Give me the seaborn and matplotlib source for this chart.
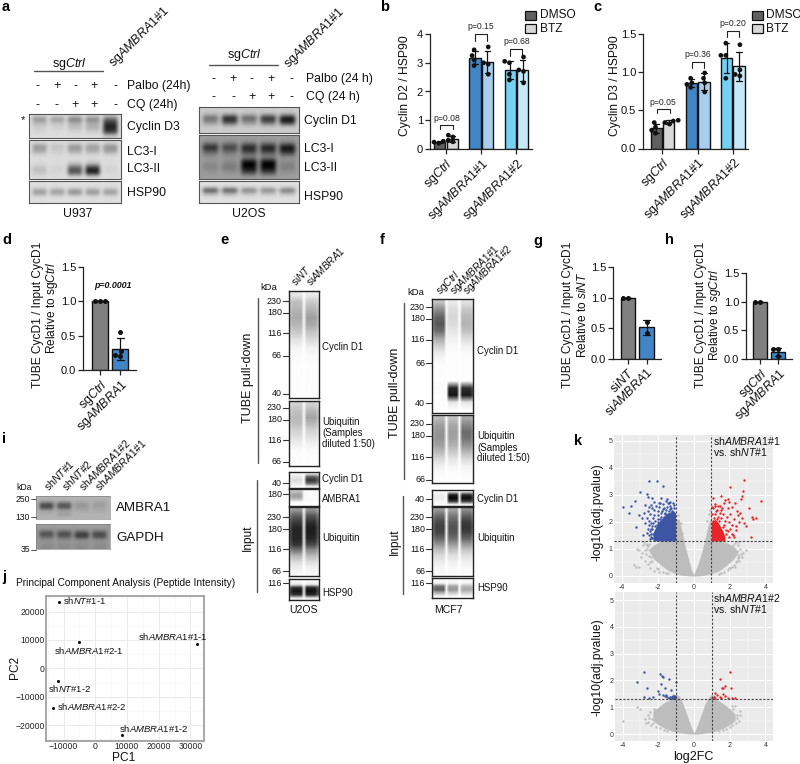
import numpy as np
import pandas as pd
import seaborn as sns
import matplotlib
matplotlib.use('Agg')
import matplotlib.pyplot as plt
from matplotlib.lines import Line2D
from matplotlib.patches import Rectangle
from matplotlib.ticker import MultipleLocator

sns.set_theme(style='white')
plt.rcParams['font.family'] = ['Liberation Sans', 'DejaVu Sans']
plt.rcParams['mathtext.fontset'] = 'custom'
plt.rcParams['mathtext.rm'] = 'Liberation Sans'
plt.rcParams['mathtext.it'] = 'Liberation Sans:italic'
plt.rcParams['mathtext.bf'] = 'Liberation Sans:bold'

W, H = 800, 764
CTRL = r'sg$\mathit{Ctrl}$'
AMB1 = r'sg$\mathit{AMBRA1\#1}$'
AMB2 = r'sg$\mathit{AMBRA1\#2}$'
AMB = r'sg$\mathit{AMBRA1}$'

# ---- bar data
groups = [CTRL, AMB1, AMB2]
b_dmso = [[.2, .24, .27, .29], [2.9, 3.1, 3.25, 3.45], [2.4, 2.6, 3.0, 3.05]]
b_btz = [[.25, .3, .42, .48], [2.6, 2.95, 3.0, 3.55], [2.3, 2.7, 2.75, 3.2]]
c_dmso = [[.2, .24, .28, .34], [.8, .84, .86, .92], [.92, 1.22, 1.22, 1.38]]
c_btz = [[.32, .34, .36, .37], [.74, .86, .92, .99], [.95, .97, 1.03, 1.36]]
d_ctrl = [1, 1, 1]
d_amb = [.55, .27, .22, .2]
g_nt = [1, 1]
g_amb = [.6, .43]
h_ctrl = [1, 1]
h_amb = [.05, .17, .17]

# ---- blots, darkness by row and lane
u937_d3 = [[.15, .15, .15, .15, .2], [.46, .42, .55, .52, .6], [.26, .22, .3, .3, .82],
           [.2, .18, .26, .32, .88], [.17, .15, .18, .2, .78], [.13, .13, .13, .13, .2]]
u937_lc3 = [[.14] * 5, [.42, .25, .42, .4, .44], [.36, .2, .36, .34, .4], [.15] * 5, [.14] * 5,
            [.15, .14, .25, .28, .14], [.26, .18, .66, .85, .18], [.24, .16, .7, .92, .16], [.14] * 5]
u937_hsp = [[.13] * 5, [.14] * 5, [.48, .46, .52, .48, .46], [.14] * 5, [.13] * 5]
u2os_d1 = [[.2] * 5, [.24] * 5, [.6, .9, .65, .85, .95], [.45, .72, .45, .65, .88], [.22] * 5, [.2] * 5]
u2os_lc3 = [[.38] * 5, [.45] * 5, [.9, .8, .92, .95, 1], [.6, .55, .72, .72, .82], [.42] * 5,
            [.42, .45, 1, 1, .45], [.5, .55, 1, 1, .52], [.42, .44, .8, .8, .44], [.38] * 5]
u2os_hsp = [[.12] * 5, [.14] * 5, [.72, .7, .52, .5, .56], [.3, .3, .24, .24, .26], [.13] * 5, [.12] * 5]
i_ambra = [[.3] * 4, [.32] * 4, [.72, .68, .42, .4], [.72, .66, .4, .36], [.34] * 4, [.33, .4, .3, .3], [.3] * 4]
i_gapdh = [[.38] * 4, [.4] * 4, [.72, .72, .72, .7], [.62, .66, .8, .72], [.42] * 4, [.44] * 4, [.46] * 4]

# ---- capillary lanes, one list per lane, top to bottom
e_tube_d1 = [[.1, .25, .3, .33, .28, .2, .1, .04, .02, .01, .01, .01, .01, .01],
             [.08, .22, .3, .38, .33, .22, .14, .05, .02, .01, .01, .01, .01, .01]]
e_tube_ub = [[.18, .24, .28, .25, .18, .13, .07, .02, .01, .01],
             [.18, .28, .36, .28, .18, .12, .06, .02, .01, .01]]
e_in_d1 = [[.03, .1, .14, .1, .03], [.08, .62, .8, .6, .08]]
e_in_amb = [[.18, .32, .38, .28, .05, .01], [.01, .02, .02, .02, .01, .01]]
e_in_ub = [[.4, .62, .75, .85, .86, .85, .8, .55, .3, .15, .07, .03],
           [.42, .66, .8, .88, .88, .85, .72, .45, .28, .14, .06, .03]]
e_hsp = [[.02, .08, .82, .92, .8, .08], [.02, .08, .86, .94, .84, .08]]
f_tube_d1 = [[.25, .45, .6, .66, .58, .35, .2, .08, .03, .01, .01, .01, .02, .01, .01, .01],
             [.08, .14, .16, .14, .1, .06, .03, .01, .01, .01, .01, .01, .85, .92, .1, .01],
             [.12, .22, .28, .3, .24, .14, .06, .02, .01, .01, .01, .01, .82, .9, .1, .01]]
f_tube_ub = [[.28, .38, .42, .42, .36, .26, .15, .06, .02, .01],
             [.25, .34, .38, .36, .3, .2, .1, .04, .01, .01],
             [.35, .48, .58, .54, .42, .28, .14, .05, .02, .01]]
f_in_d1 = [[.02, .07, .08, .05, .02], [.1, .85, .98, .8, .08], [.1, .82, .96, .78, .08]]
f_in_ub = [[.4, .58, .7, .75, .72, .6, .42, .25, .14, .08, .04, .02],
           [.36, .52, .62, .68, .66, .56, .4, .24, .12, .07, .03, .02],
           [.45, .62, .75, .8, .74, .6, .4, .22, .12, .06, .03, .02]]
f_hsp = [[.02, .04, .55, .62, .3, .03], [.02, .04, .36, .42, .2, .03], [.02, .04, .28, .34, .18, .03]]

# ---- PCA
pc1 = [-11360, -5140, 32000, -11860, -13440, 8330]
pc2 = [23240, 9150, 8450, -4360, -13870, -23490]

# ---- volcano envelopes (dense clouds) and sparse points
v1_x = [-2.5, -2.2, -1.8, -1.4, -1.01, -1.0, -.8, -.65, -.5, -.35, -.2, -.1, 0, .1, .2, .4, .6, .8, 1.0, 1.01, 1.4, 1.8, 2.2, 2.5]
v1_low = [.95, .62, .4, .2, .08, .07, .05, .03, .02, .01, 0, 0, 0, 0, 0, .01, .03, .05, .07, .08, .18, .38, .6, .9]
v1_high = [.98, 1.15, 1.3, 1.3, 1.3, 2.1, 2.1, 1.7, 1.2, .8, .45, .2, .05, .2, .35, .75, 1.25, 1.85, 2.25, 1.3, 1.3, 1.25, 1.1, .92]
v2_x = [-2.3, -2.0, -1.6, -1.2, -1.0, -.8, -.6, -.4, -.2, -.1, 0, .1, .2, .4, .6, .8, 1.0, 1.2, 1.6, 2.0, 2.3]
v2_low = [.5, .35, .2, .1, .07, .05, .03, .01, 0, 0, 0, 0, 0, .01, .03, .05, .07, .1, .2, .35, .5]
v2_high = [.85, 1.0, 1.2, 1.32, 1.5, 1.4, 1.1, .72, .35, .18, .05, .18, .35, .72, 1.1, 1.35, 1.5, 1.32, 1.15, .95, .75]
b1_fill_x = [-2.25, -2.0, -1.8, -1.5, -1.2, -1.0]
b1_fill_top = [1.6, 1.95, 2.1, 2.3, 2.4, 2.35]
r1_fill_x = [1.0, 1.2, 1.4, 1.6, 1.75]
r1_fill_top = [2.0, 2.1, 1.95, 1.7, 1.45]
b2_fill_x = [-1.3, -1.15, -1.0]
b2_fill_top = [1.42, 1.47, 1.45]

blue1_x = [-2.5, -2.02, -1.68, -3.0, -2.6, -2.54, -3.93, -3.5, -3.26, -3.56, -2.3, -1.83, -1.46, -2.2, -1.93, -2.67, -2.48, -1.37, -1.09,
           -3.04, -2.85, -3.17, -2.81, -2.61, -2.39, -2.48, -2.76, -2.4, -2.3, -2.2, -2.1, -2.0, -1.9, -1.8, -1.7, -1.6, -1.5, -1.4, -1.3, -1.2, -1.1,
           -2.45, -2.35, -2.25, -2.15, -2.05, -1.95, -1.85, -1.75, -1.65, -1.55, -1.45, -1.35, -1.25, -1.15, -2.55, -2.42, -2.28, -2.12, -1.98, -1.82,
           -1.72, -1.58, -1.42, -1.28, -1.12, -2.7, -2.6, -2.52, -2.38, -2.18, -1.88, -1.62, -1.52, -1.32, -1.18,
           -2.33, -2.27, -2.37, -2.3, -2.42, -2.15, -2.22, -2.08, -1.98, -2.45, -2.25, -2.35]
blue1_y = [3.53, 3.53, 3.35, 3.12, 3.02, 2.94, 2.55, 2.59, 2.78, 2.32, 2.88, 2.88, 2.86, 2.75, 2.69, 2.63, 2.57, 2.69, 2.63,
           2.26, 2.14, 1.8, 1.52, 1.58, 1.46, 1.89, 2.32, 2.3, 2.5, 2.25, 2.6, 2.4, 2.55, 2.2, 2.65, 2.35, 2.55, 2.3, 2.6, 2.4, 2.5,
           2.05, 1.95, 2.15, 2.05, 1.9, 2.25, 2.1, 2.4, 2.2, 2.45, 2.25, 2.42, 2.52, 2.38, 1.75, 1.65, 1.75, 1.85, 2.12, 2.32,
           2.48, 2.28, 2.72, 2.48, 2.7, 1.95, 2.15, 2.4, 2.62, 2.45, 2.72, 2.52, 2.78, 2.75, 2.3,
           1.4, 1.55, 1.75, 1.85, 1.38, 1.6, 1.42, 1.72, 2.0, 1.5, 1.95, 1.55]
red1_x = [2.78, 2.05, 2.76, 3.78, 2.7, 1.08, 1.2, 1.55, 1.75, 2.0, 2.3, 2.65, 1.05, 1.3, 1.5, 1.7, 1.9, 2.15, 2.4, 2.6, 3.1, 3.25, 3.5, 3.3, 2.9, 3.2,
          1.02, 1.15, 1.25, 1.35, 1.45, 1.55, 1.65, 1.75, 1.85, 1.95, 2.05, 2.15, 2.25, 2.35, 2.45, 2.55, 2.7, 1.1, 1.22, 1.32, 1.42, 1.52, 1.62, 1.72, 1.82, 1.92,
          2.02, 2.12, 1.08, 1.18, 1.38, 1.58, 1.78, 1.98, 2.18, 2.38, 2.78, 2.25, 1.6, 1.9]
red1_y = [3.55, 3.3, 3.15, 2.77, 2.95, 2.9, 2.6, 2.95, 2.8, 2.75, 2.7, 2.85, 2.55, 2.45, 2.6, 2.7, 2.5, 2.55, 2.4, 2.35, 2.5, 2.2, 2.15, 2.1, 1.85, 1.45,
          2.3, 2.15, 2.4, 2.2, 2.35, 2.15, 2.3, 2.05, 2.2, 2.0, 2.3, 1.9, 2.1, 1.85, 2.25, 2.0, 2.15, 2.05, 2.28, 2.1, 2.05, 2.45, 1.8, 1.9, 1.7, 1.65,
          1.75, 1.55, 2.5, 2.65, 2.6, 1.6, 1.55, 1.45, 1.5, 1.7, 1.95, 1.45, 2.52, 2.85]
grey1_x = [-3.3, -3.2, -3.05, -2.9, -2.7, -2.55, -2.4, -3.15, -2.8, -2.6, 2.5, 2.7, 2.9, 2.55, 2.3, 2.6, 2.2, -.85, -.7, -.62, .75, .85, .92, 1.05, -2.2, -1.9, 2.0,
           -2.85, -2.7, -2.62, -2.55, -2.45, -2.35, -2.28, -2.5, -2.4, -2.3, -2.65, -2.05, -1.95, -1.7, -1.55, -1.4,
           2.62, 2.55, 2.45, 2.35, 2.3, 2.45, 2.25, 2.15, 2.05, 1.9, 1.7, 1.55, 1.4, -3.05, 2.75, -2.75, -2.6, 2.4, 2.5]
grey1_y = [.4, .35, .32, .7, .55, .45, .3, 1.0, 1.15, 1.0, 1.25, .7, .95, .55, .35, 1.0, 1.15, 2.25, 1.95, 1.6, 2.05, 2.3, 2.45, 2.55, .2, .15, .3,
           .85, .95, .8, 1.1, 1.2, .7, .55, .75, .5, .9, 1.2, .3, .25, .15, .1, .12,
           .8, .72, 1.15, .5, 1.22, .65, .42, .35, .28, .22, .14, .12, .08, .95, .85, 1.25, 1.15, .55, .78]
blue2_x = [-2.82, -3.2, -2.62, -1.88, -1.8, -1.72, -1.4, -1.85, -2.0, -1.6, -1.3, -1.55, -1.35, -2.8, -2.3, -1.95, -1.75, -1.65, -1.5, -1.42, -1.2, -1.1, -2.5, -1.0]
blue2_y = [2.3, 1.93, 1.72, 2.25, 2.15, 2.12, 2.07, 1.88, 1.6, 1.72, 1.65, 1.45, 1.4, 1.38, 1.38, 1.5, 1.45, 1.42, 1.38, 1.35, 1.35, 1.4, 1.36, 1.95]
red2_x = [2.03, 1.43, 1.75, 1.55, 2.05, 1.1, 1.15, 1.3, 1.45, 1.6, 1.75, 1.9, 2.1, 2.3, 1.02, 1.2, 1.65, 1.5]
red2_y = [2.3, 2.07, 1.78, 1.7, 1.72, 1.4, 1.52, 1.45, 1.38, 1.48, 1.42, 1.36, 1.33, 1.35, 1.33, 1.35, 1.72, 1.36]
grey2_x = [-4.0, -3.0, -2.75, -2.6, -2.4, -2.2, -3.2, 2.4, 2.6, 2.3, 2.1, -1.15, 1.12,
           -2.55, -2.45, -2.35, -2.5, -2.25, -2.1, -1.9, -1.7, -2.7, -2.3, 2.5, 2.4, 2.35, 2.2, 2.15, 2.0, 1.8, 1.6, 2.55, -1.5, 1.4]
grey2_y = [.5, .95, .55, .7, .35, .9, 1.0, .6, .85, 1.05, 1.05, 1.45, 1.42,
           .45, .82, .55, .6, .95, .25, .22, .15, .4, .42, .5, .72, .4, .92, .32, .25, .2, .15, .7, .12, .1]

# ---- colours
GREY_D, GREY_L = '#606060', '#d9d9d9'
BLUE, BLUE_L = '#4285c6', '#a9cdee'
CYAN, CYAN_L = '#74d0f5', '#c6e9f9'
GREY_M = '#808080'

fig = plt.figure(figsize=(W / 100, H / 100), dpi=100)


def T(x, y, s, size=7, ha='left', va='center', **kw):
    fig.text(x / W, 1 - y / H, s, fontsize=size, ha=ha, va=va, color=kw.pop('color', '#111111'), **kw)


def L(x0, y0, x1, y1, color='#333333', lw=1.0):
    fig.add_artist(Line2D([x0 / W, x1 / W], [1 - y0 / H, 1 - y1 / H], color=color, lw=lw, transform=fig.transFigure))


def axpx(x0, y0, x1, y1):
    return fig.add_axes([x0 / W, 1 - y1 / H, (x1 - x0) / W, (y1 - y0) / H])


def R45(x, y, s, size=9):
    T(x, y, s, size=size, rotation=45, rotation_mode='anchor', va='baseline')


def blot(box, rows, bg, edge='#555555', lw=.8):
    arr = np.array(rows, dtype=float)
    gap = np.full(arr.shape[0], bg)
    cols = [gap]
    for j in range(arr.shape[1]):
        cols += [arr[:, j]] * 4 + [gap]
    ax = axpx(*box)
    ax.imshow(np.column_stack(cols), cmap='gray_r', vmin=0, vmax=1, aspect='auto', interpolation='bicubic')
    ax.set_xticks([])
    ax.set_yticks([])
    for s in ax.spines.values():
        s.set_color(edge)
        s.set_linewidth(lw)


def lanes(box, profiles):
    arr = np.array(profiles, dtype=float).T
    gap = arr * .25
    cols = [arr[:, 0] * .8]
    for j in range(arr.shape[1]):
        cols += [arr[:, j]] * 4
        if j < arr.shape[1] - 1:
            cols += [gap[:, j] * .4]
    cols += [arr[:, -1] * .8]
    ax = axpx(*box)
    ax.imshow(np.column_stack(cols), cmap='gray_r', vmin=0, vmax=1, aspect='auto', interpolation='bilinear')
    ax.set_xticks([])
    ax.set_yticks([])
    for s in ax.spines.values():
        s.set_color('#222222')
        s.set_linewidth(1.0)


def style_bar_ax(ax, ymax, step):
    sns.despine(ax=ax)
    ax.set_ylim(0, ymax)
    ax.yaxis.set_major_locator(MultipleLocator(step))
    ax.set_xlabel('')
    ax.set_ylabel('')
    ax.patch.set_alpha(0)
    ax.tick_params(axis='both', length=3.5, width=.9, color='#222222', pad=1.5,
                   left=True, bottom=True, labelcolor='#111111')
    ax.tick_params(axis='y', labelsize=8)
    ax.tick_params(axis='x', labelsize=9)
    for s in ('left', 'bottom'):
        ax.spines[s].set_color('#222222')
        ax.spines[s].set_linewidth(.9)
    for t in ax.get_xticklabels():
        t.set_rotation(45)
        t.set_ha('right')
        t.set_rotation_mode('anchor')


def grouped(box, xlim, dmso, btz, ymax, step, colors):
    rows = []
    for name, vals in (('DMSO', dmso), ('BTZ', btz)):
        for g, reps in zip(groups, vals):
            rows += [(g, name, v) for v in reps]
    df = pd.DataFrame(rows, columns=['group', 'treat', 'val'])
    ax = axpx(*box)
    sns.barplot(data=df, x='group', y='val', hue='treat', order=groups, hue_order=['DMSO', 'BTZ'],
                errorbar='sd', width=.71, gap=.1, edgecolor='#111111', linewidth=1, capsize=.3,
                err_kws={'color': '#111111', 'linewidth': .9}, legend=False, ax=ax)
    for p, c in zip(ax.patches, colors):
        p.set_facecolor(c)
    n0 = len(ax.collections)
    sns.swarmplot(data=df, x='group', y='val', hue='treat', order=groups, hue_order=['DMSO', 'BTZ'],
                  dodge=True, size=3.4, palette=['#111111', '#111111'], legend=False, ax=ax)
    for c in ax.collections[n0:]:
        xy = c.get_offsets()
        if len(xy):
            mid = xy[:, 0].mean()
            xy[:, 0] += -.0225 if mid < round(mid) else .0225
            c.set_offsets(xy)
    ax.set_xlim(*xlim)
    style_bar_ax(ax, ymax, step)
    return ax


def simple(box, xlim, labels, vals, ymax, colors=(GREY_M, BLUE)):
    df = pd.DataFrame([(labels[i], v) for i in range(2) for v in vals[i]], columns=['group', 'val'])
    ax = axpx(*box)
    sns.barplot(data=df, x='group', y='val', hue='group', order=labels, hue_order=labels,
                palette=list(colors), errorbar='sd', width=.8, edgecolor='#111111', linewidth=1, capsize=.35,
                saturation=1, err_kws={'color': '#111111', 'linewidth': .9}, legend=False, ax=ax)
    sns.swarmplot(data=df, x='group', y='val', order=labels, color='#111111', size=3.6, ax=ax)
    ax.set_xlim(*xlim)
    style_bar_ax(ax, ymax, .5)
    return ax


def bracket(ax, x0, x1, y, drop, label, size=6.2):
    ax.plot([x0, x0, x1, x1], [y - drop, y, y, y - drop], color='#222222', lw=.8, clip_on=False)
    ax.text((x0 + x1) / 2, y + drop * .45, label, ha='center', va='bottom', fontsize=size, color='#222222', clip_on=False)


# ---- panel letters
for (x, y, s) in [(2, 7, 'a'), (380, 7, 'b'), (593, 7, 'c'), (2, 240, 'd'), (220, 240, 'e'), (380, 240, 'f'),
                  (533, 241, 'g'), (665, 240, 'h'), (2, 439, 'i'), (2, 577, 'j'), (574, 441, 'k')]:
    T(x, y, s, size=10.5, fontweight='bold', color='black')

# ---- a
T(69, 64, CTRL, size=9, ha='center')
L(34, 71, 103, 71, color='#555555')
R45(113, 67, AMB1, size=9)
for x, a, b in zip([38, 57, 75, 94, 116], '-+-+-', '--++-'):
    T(x, 86, a, size=9, ha='center')
    T(x, 105, b, size=9, ha='center')
T(127, 86, 'Palbo (24h)', size=8.8)
T(127, 105, 'CQ (24h)', size=8.8)
T(23, 120, '*', size=8, ha='center')
blot((29, 114, 121, 138), u937_d3, .13)
blot((29, 140, 121, 179), u937_lc3, .13)
blot((29, 181, 121, 203), u937_hsp, .12)
T(127, 127, 'Cyclin D3', size=8.8)
T(127, 152, 'LC3-I', size=8.8)
T(127, 169, 'LC3-II', size=8.8)
T(127, 193, 'HSP90', size=8.8)
T(78, 214, 'U937', size=8.8, ha='center')

T(244, 55, CTRL, size=9, ha='center')
L(209, 65, 278, 65, color='#555555')
R45(288, 68, AMB1, size=9)
for x, a, b in zip([214, 233, 252, 271, 292], '-+-+-', '--++-'):
    T(x, 79, a, size=9, ha='center')
    T(x, 97, b, size=9, ha='center')
T(306, 79, 'Palbo (24 h)', size=8.8)
T(306, 97, 'CQ (24 h)', size=8.8)
blot((199, 107, 299, 133), u2os_d1, .2)
blot((199, 135, 299, 179), u2os_lc3, .38)
blot((199, 181, 299, 203), u2os_hsp, .12)
T(304, 121, 'Cyclin D1', size=8.8)
T(304, 149, 'LC3-I', size=8.8)
T(304, 168, 'LC3-II', size=8.8)
T(304, 197, 'HSP90', size=8.8)
T(249, 214, 'U2OS', size=8.8, ha='center')

# ---- b, c
cols = [GREY_D, BLUE, CYAN, GREY_L, BLUE_L, CYAN_L]
ax_b = grouped((430, 34, 532, 149), (-.45, 2.44), b_dmso, b_btz, 4, 1, cols)
bracket(ax_b, -.17, .2, .83, .15, 'p=0.08')
bracket(ax_b, .83, 1.17, 4.0, .24, 'p=0.15')
bracket(ax_b, 1.83, 2.17, 3.48, .24, 'p=0.68')
T(405, 86, 'Cyclin D2 / HSP90', size=8.7, rotation=90, ha='center')
ax_c = grouped((643, 34, 748, 148.5), (-.554, 2.43), c_dmso, c_btz, 1.5, .5, cols)
bracket(ax_c, -.17, .2, .517, .055, 'p=0.05')
bracket(ax_c, .83, 1.17, 1.13, .08, 'p=0.36')
bracket(ax_c, 1.83, 2.17, 1.54, .08, 'p=0.20')
T(615, 86, 'Cyclin D3 / HSP90', size=8.7, rotation=90, ha='center')
for x0, tx in [(525, 540), (752, 766)]:
    for y0, fc, s in [(11, GREY_D, 'DMSO'), (24, GREY_L, 'BTZ')]:
        fig.add_artist(Rectangle((x0 / W, 1 - (y0 + 9) / H), 11 / W, 9 / H, facecolor=fc, edgecolor='#111111', lw=.9,
                                 transform=fig.transFigure))
        T(tx, y0 + 4.5, s, size=8.6)

# ---- d, g, h
ax_d = simple((83, 267, 136, 370), (-.85, 1.8), [CTRL, AMB], [d_ctrl, d_amb], 1.5)
T(113, 286, 'p=0.0001', size=6.4, ha='center', fontweight='bold', fontstyle='italic')
T(38, 315, 'TUBE CycD1 / Input CycD1', size=8.6, rotation=90, ha='center')
T(52, 308, r'Relative to sg$\mathit{Ctrl}$', size=8.6, rotation=90, ha='center')
simple((613, 267, 661, 359), (-.81, 1.78), [r'si$\mathit{NT}$', r'si$\mathit{AMBRA1}$'], [g_nt, g_amb], 1.5)
T(568, 315, 'TUBE CycD1 / Input CycD1', size=8.6, rotation=90, ha='center')
T(583, 315, r'Relative to $\mathit{siNT}$', size=8.6, rotation=90, ha='center')
simple((746, 273, 792, 359), (-.78, 1.78), [r'sg$\mathit{Ctrl}$', AMB], [h_ctrl, h_amb], 1.5)
T(701, 315, 'TUBE CycD1 / Input CycD1', size=8.6, rotation=90, ha='center')
T(715, 315, r'Relative to $\mathit{sgCtrl}$', size=8.6, rotation=90, ha='center')


def mw(x, labels):
    for y, s in labels:
        L(x - 6, y, x, y, color='#333333', lw=.8)
        T(x - 7, y, s, size=6.4, ha='right')


# ---- e
lanes((289, 291, 319, 398), e_tube_d1)
lanes((289, 401, 319, 466), e_tube_ub)
lanes((289, 472, 319, 488), e_in_d1)
lanes((289, 489, 319, 506), e_in_amb)
lanes((289, 507, 319, 576), e_in_ub)
lanes((289, 579, 319, 600), e_hsp)
mw(289, [(301, '230'), (313, '180'), (333, '116'), (356, '66'), (394, '40'), (408, '230'), (420, '180'), (440, '116'),
         (462, '66'), (483, '40'), (494, '180'), (517, '230'), (529, '180'), (549, '116'), (571, '66'), (583, '116')])
T(269, 287, 'kDa', size=6.8, ha='center')
R45(296, 287, r'si$\mathit{NT}$', size=7.2)
R45(311, 287, r'si$\mathit{AMBRA1}$', size=7.2)
L(258, 298, 258, 463, color='#555555')
L(257, 480, 257, 592, color='#555555')
T(248, 378, 'TUBE pull-down', size=9, rotation=90, ha='center')
T(248, 538, 'Input', size=8.6, rotation=90, ha='center')
T(322, 347, 'Cyclin D1', size=6.9)
T(322, 422, 'Ubiquitin', size=6.9)
T(322, 433, '(Samples', size=6.9)
T(322, 444, 'diluted 1:50)', size=6.9)
T(322, 479, 'Cyclin D1', size=6.9)
T(322, 499, 'AMBRA1', size=6.9)
T(322, 538, 'Ubiquitin', size=6.9)
T(322, 593, 'HSP90', size=6.9)
T(304, 610, 'U2OS', size=7.6, ha='center')

# ---- f
lanes((432, 299, 473, 413), f_tube_d1)
lanes((432, 415, 473, 483), f_tube_ub)
lanes((432, 490, 473, 506), f_in_d1)
lanes((432, 507, 473, 576), f_in_ub)
lanes((432, 578, 473, 598), f_hsp)
mw(432, [(307, '230'), (319, '180'), (340, '116'), (363, '66'), (403, '40'), (424, '230'), (436, '180'), (457, '116'),
         (480, '66'), (499, '40'), (517, '230'), (529, '180'), (549, '116'), (571, '66'), (583, '116')])
T(416, 293, 'kDa', size=6.8, ha='center')
R45(440, 295, r'sg$\mathit{Ctrl}$', size=7.3)
R45(454, 295, r'sg$\mathit{AMBRA1\#1}$', size=7.3)
R45(467, 295, r'sg$\mathit{AMBRA1\#2}$', size=7.3)
L(404, 303, 404, 479, color='#555555')
L(403, 496, 403, 594, color='#555555')
T(395, 393, 'TUBE pull-down', size=9, rotation=90, ha='center')
T(395, 542, 'Input', size=8.6, rotation=90, ha='center')
T(477, 351, 'Cyclin D1', size=6.9)
T(477, 436, 'Ubiquitin', size=6.9)
T(477, 448, '(Samples', size=6.9)
T(477, 458, 'diluted 1:50)', size=6.9)
T(477, 499, 'Cyclin D1', size=6.9)
T(477, 538, 'Ubiquitin', size=6.9)
T(477, 588, 'HSP90', size=6.9)
T(448, 610, 'MCF7', size=7.6, ha='center')

# ---- i
blot((36, 496, 110, 519), i_ambra, .3, edge='#777777', lw=.4)
blot((36, 524, 110, 549), i_gapdh, .4, edge='#777777', lw=.4)
T(24, 487, 'kDa', size=6.2, ha='center')
for y, s in [(499, '250'), (517, '130'), (550, '35')]:
    L(31, y, 36, y, color='#555555', lw=.7)
    T(30, y, s, size=6.2, ha='right')
T(116, 508, 'AMBRA1', size=9.6)
T(116, 538, 'GAPDH', size=9.6)
R45(49, 492, r'sh$\mathit{NT\#1}$', size=7.6)
R45(67, 492, r'sh$\mathit{NT\#2}$', size=7.6)
R45(84, 492, r'sh$\mathit{AMBRA1\#2}$', size=7.6)
R45(100, 492, r'sh$\mathit{AMBRA1\#1}$', size=7.6)

# ---- j
ax_j = axpx(46, 596, 204, 741)
sns.scatterplot(x=pc1, y=pc2, color='#111111', s=5, linewidth=0, ax=ax_j, zorder=3)
ax_j.set_xlim(-15550, 34290)
ax_j.set_ylim(-25600, 25460)
ax_j.set_xticks([-10000, 0, 10000, 20000, 30000])
ax_j.set_yticks([-20000, -10000, 0, 10000, 20000])
ax_j.set_xticklabels(['\u221210000', '0', '10000', '20000', '30000'])
ax_j.set_yticklabels(['\u221220000', '\u221210000', '0', '10000', '20000'])
ax_j.set_xticks([-15000, -5000, 5000, 15000, 25000], minor=True)
ax_j.set_yticks([-25000, -15000, -5000, 5000, 15000, 25000], minor=True)
ax_j.grid(True, which='major', color='#ebebeb', lw=.7)
ax_j.grid(True, which='minor', color='#f3f3f3', lw=.4)
ax_j.tick_params(axis='both', which='major', labelsize=6.2, length=0, pad=1, labelcolor='#222222')
ax_j.tick_params(axis='both', which='minor', length=0)
for s in ax_j.spines.values():
    s.set_color('#a0a0a0')
    s.set_linewidth(1.3)
T(16, 583, 'Principal Component Analysis (Peptide Intensity)', size=7.3)
T(124, 758, 'PC1', size=8.6, ha='center')
T(15, 667, 'PC2', size=8.6, rotation=90, ha='center')
T(63, 601, r'sh$\mathit{NT\#1}$-1', size=6.8)
T(54, 650, r'sh$\mathit{AMBRA1\#2}$-1', size=6.8)
T(138, 637, r'sh$\mathit{AMBRA1\#}$1-1', size=6.8)
T(48, 689, r'sh$\mathit{NT\#1}$-2', size=6.8)
T(57, 706, r'sh$\mathit{AMBRA1\#2}$-2', size=6.8)
T(119, 728, r'sh$\mathit{AMBRA1\#}$1-2', size=6.8)


# ---- k
def volcano(box, ylim, vx, low, high, gx, gy, fills, bx, by, rx, ry):
    ax = axpx(*box)
    ax.set_facecolor('#ebebeb')
    ax.fill_between(vx, low, high, color='#bdbdbd', lw=0, zorder=2)
    sns.scatterplot(x=gx, y=gy, color='#bdbdbd', s=3, linewidth=0, ax=ax, zorder=2)
    for fx, ftop, c in fills:
        ax.fill_between(fx, 1.3, ftop, color=c, lw=0, zorder=3)
    sns.scatterplot(x=bx, y=by, color='#3c55a5', s=3, linewidth=0, ax=ax, zorder=4)
    sns.scatterplot(x=rx, y=ry, color='#e8262a', s=3, linewidth=0, ax=ax, zorder=4)
    ax.axhline(1.3, color='#444444', lw=.8, ls=(0, (2, 1.5)), zorder=5)
    for v in (-1, 1):
        ax.axvline(v, color='#444444', lw=.8, ls=(0, (2, 1.5)), zorder=5)
    ax.set_xlim(-4.42, 4.42)
    ax.set_ylim(*ylim)
    ax.set_xticks([-4, -2, 0, 2, 4])
    ax.set_xticklabels(['-4', '-2', '0', '2', '4'])
    ax.set_yticks([0, 1, 2, 3, 4, 5])
    ax.set_xticks([-3, -1, 1, 3], minor=True)
    ax.set_yticks([.5, 1.5, 2.5, 3.5, 4.5], minor=True)
    ax.grid(True, which='major', color='white', lw=.7, zorder=1)
    ax.grid(True, which='minor', color='white', lw=.35, zorder=1)
    ax.set_axisbelow(True)
    ax.tick_params(axis='both', which='major', labelsize=5, length=0, pad=1, labelcolor='#333333')
    ax.tick_params(axis='both', which='minor', length=0)
    sns.despine(ax=ax, left=True, bottom=True)
    return ax


volcano((614, 435, 773, 583), (-.26, 5.22), v1_x, v1_low, v1_high, grey1_x, grey1_y,
        [(b1_fill_x, b1_fill_top, '#3c55a5'), (r1_fill_x, r1_fill_top, '#e8262a')],
        blue1_x, blue1_y, red1_x, red1_y)
volcano((615, 592, 773, 741), (-.26, 5.3), v2_x, v2_low, v2_high, grey2_x, grey2_y,
        [(b2_fill_x, b2_fill_top, '#3c55a5')], blue2_x, blue2_y, red2_x, red2_y)
T(713, 441, r'sh$\mathit{AMBRA1\#}$1', size=7.6)
T(713, 452, r'vs. sh$\mathit{NT\#}$1', size=7.6)
T(713, 598, r'sh$\mathit{AMBRA1\#2}$', size=7.6)
T(713, 609, r'vs. sh$\mathit{NT\#}$1', size=7.6)
T(597, 512, '-log10(adj.pvalue)', size=8.7, rotation=90, ha='center')
T(597, 667, '-log10(adj.pvalue)', size=8.7, rotation=90, ha='center')
T(693, 757, 'log2FC', size=9, ha='center')

fig.savefig('out.png', dpi=100)
